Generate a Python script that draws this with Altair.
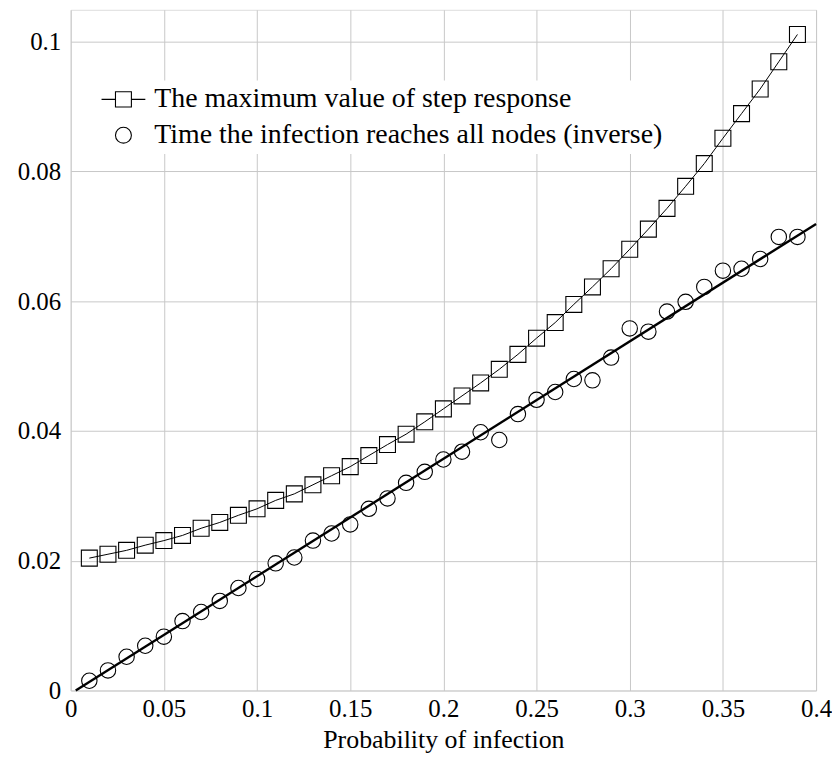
import altair as alt
import pandas as pd

# x values (probability of infection)
prob = [0.01, 0.02, 0.03, 0.04, 0.05, 0.06, 0.07, 0.08, 0.09, 0.10,
        0.11, 0.12, 0.13, 0.14, 0.15, 0.16, 0.17, 0.18, 0.19, 0.20,
        0.21, 0.22, 0.23, 0.24, 0.25, 0.26, 0.27, 0.28, 0.29, 0.30,
        0.31, 0.32, 0.33, 0.34, 0.35, 0.36, 0.37, 0.38, 0.39]

# maximum value of step response (squares)
step_max = [0.0204, 0.0210, 0.0216, 0.0224, 0.0231, 0.0239, 0.0250, 0.0259, 0.0270, 0.0280,
            0.0293, 0.0303, 0.0317, 0.0331, 0.0345, 0.0362, 0.0379, 0.0395, 0.0414, 0.0434,
            0.0454, 0.0474, 0.0495, 0.0518, 0.0543, 0.0567, 0.0595, 0.0622, 0.0650, 0.0680,
            0.0711, 0.0743, 0.0777, 0.0812, 0.0851, 0.0889, 0.0927, 0.0969, 0.1011]

# inverse time the infection reaches all nodes (circles)
inv_time = [0.0015, 0.0031, 0.0052, 0.0069, 0.0083, 0.0107, 0.0121, 0.0138, 0.0158, 0.0172,
            0.0196, 0.0205, 0.0231, 0.0242, 0.0256, 0.0280, 0.0296, 0.0320, 0.0337, 0.0356,
            0.0368, 0.0398, 0.0386, 0.0426, 0.0448, 0.0460, 0.0480, 0.0478, 0.0513, 0.0558,
            0.0553, 0.0584, 0.0599, 0.0622, 0.0647, 0.0650, 0.0665, 0.0699, 0.0699]

# linear fit to the circles
fit_x = [0.0027, 0.40]
fit_y = [0.0, 0.0719]

series_names = ["The maximum value of step response",
                "Time the infection reaches all nodes (inverse)"]

FONT = "Liberation Serif"

df_sq = pd.DataFrame({"p": prob, "v": step_max, "series": series_names[0]})
df_ci = pd.DataFrame({"p": prob, "v": inv_time, "series": series_names[1]})
df_fit = pd.DataFrame({"p": fit_x, "v": fit_y})
df_all = pd.concat([df_sq, df_ci], ignore_index=True)

xs = alt.Scale(domain=[0, 0.4], nice=False, zero=False)
ys = alt.Scale(domain=[0, 0.1049], nice=False, zero=False)

xax = alt.Axis(title="Probability of infection", values=[0, 0.05, 0.1, 0.15, 0.2, 0.25, 0.3, 0.35, 0.4],
               format=".2~f", grid=True, gridColor="#c8c8c8", gridWidth=1, ticks=False,
               domain=False, labelFont=FONT, labelFontSize=25, labelColor="black",
               labelPadding=6, titleFont=FONT, titleFontSize=26, titleFontWeight="normal",
               titleColor="black", titleBaseline="alphabetic", titleY=57, labelFlush=False)
yax = alt.Axis(title=None, values=[0, 0.02, 0.04, 0.06, 0.08, 0.1], format=".2~f",
               grid=True, gridColor="#c8c8c8", gridWidth=1, ticks=False, domain=False,
               labelFont=FONT, labelFontSize=25, labelColor="black", labelPadding=10,
               labelFlush=False)

X = alt.X("p:Q", scale=xs, axis=xax)
Y = alt.Y("v:Q", scale=ys, axis=yax)

sq_line = alt.Chart(df_sq).mark_line(color="black", strokeWidth=1).encode(x=X, y=Y)
sq_pts = alt.Chart(df_sq).mark_point(shape="square", size=256, filled=False, color="black",
                                     strokeWidth=1.1, opacity=1).encode(x=X, y=Y)
ci_pts = alt.Chart(df_ci).mark_point(shape="circle", size=240, filled=False, color="black",
                                     strokeWidth=1.1, opacity=1).encode(x=X, y=Y)
fit_line = alt.Chart(df_fit).mark_line(color="black", strokeWidth=2.4).encode(x=X, y=Y)

sq_path = "M-2.75,0H-1M1,0H2.75M-1,-0.95H1V0.95H-1Z"
ci_path = "M1,0A1,1,0,1,1,-1,0A1,1,0,1,1,1,0Z"

legend_layer = alt.Chart(df_all).transform_filter("datum.p < 0").mark_point(
    filled=False, color="black", strokeWidth=1.1, opacity=1
).encode(
    x=X, y=Y,
    shape=alt.Shape("series:N",
                    scale=alt.Scale(domain=series_names, range=[sq_path, ci_path]),
                    legend=alt.Legend(title=None, orient="none", legendX=21, legendY=71,
                                      padding=5, fillColor="white", symbolSize=256,
                                      symbolStrokeWidth=1.1, symbolStrokeColor="black",
                                      symbolOffset=13, labelOffset=17, labelFont=FONT,
                                      labelFontSize=28, labelColor="black", labelLimit=0,
                                      rowPadding=8, symbolOpacity=1))
)

chart = alt.layer(sq_line, fit_line, sq_pts, ci_pts, legend_layer).properties(
    width=749, height=684,
    autosize=alt.AutoSizeParams(type="none"),
    padding={"left": 63, "top": 0, "right": 16, "bottom": 63},
).configure_view(stroke="black", strokeWidth=1.3).configure(background="white")

chart.save("out.html", embed_options={"renderer": "svg", "actions": False})
